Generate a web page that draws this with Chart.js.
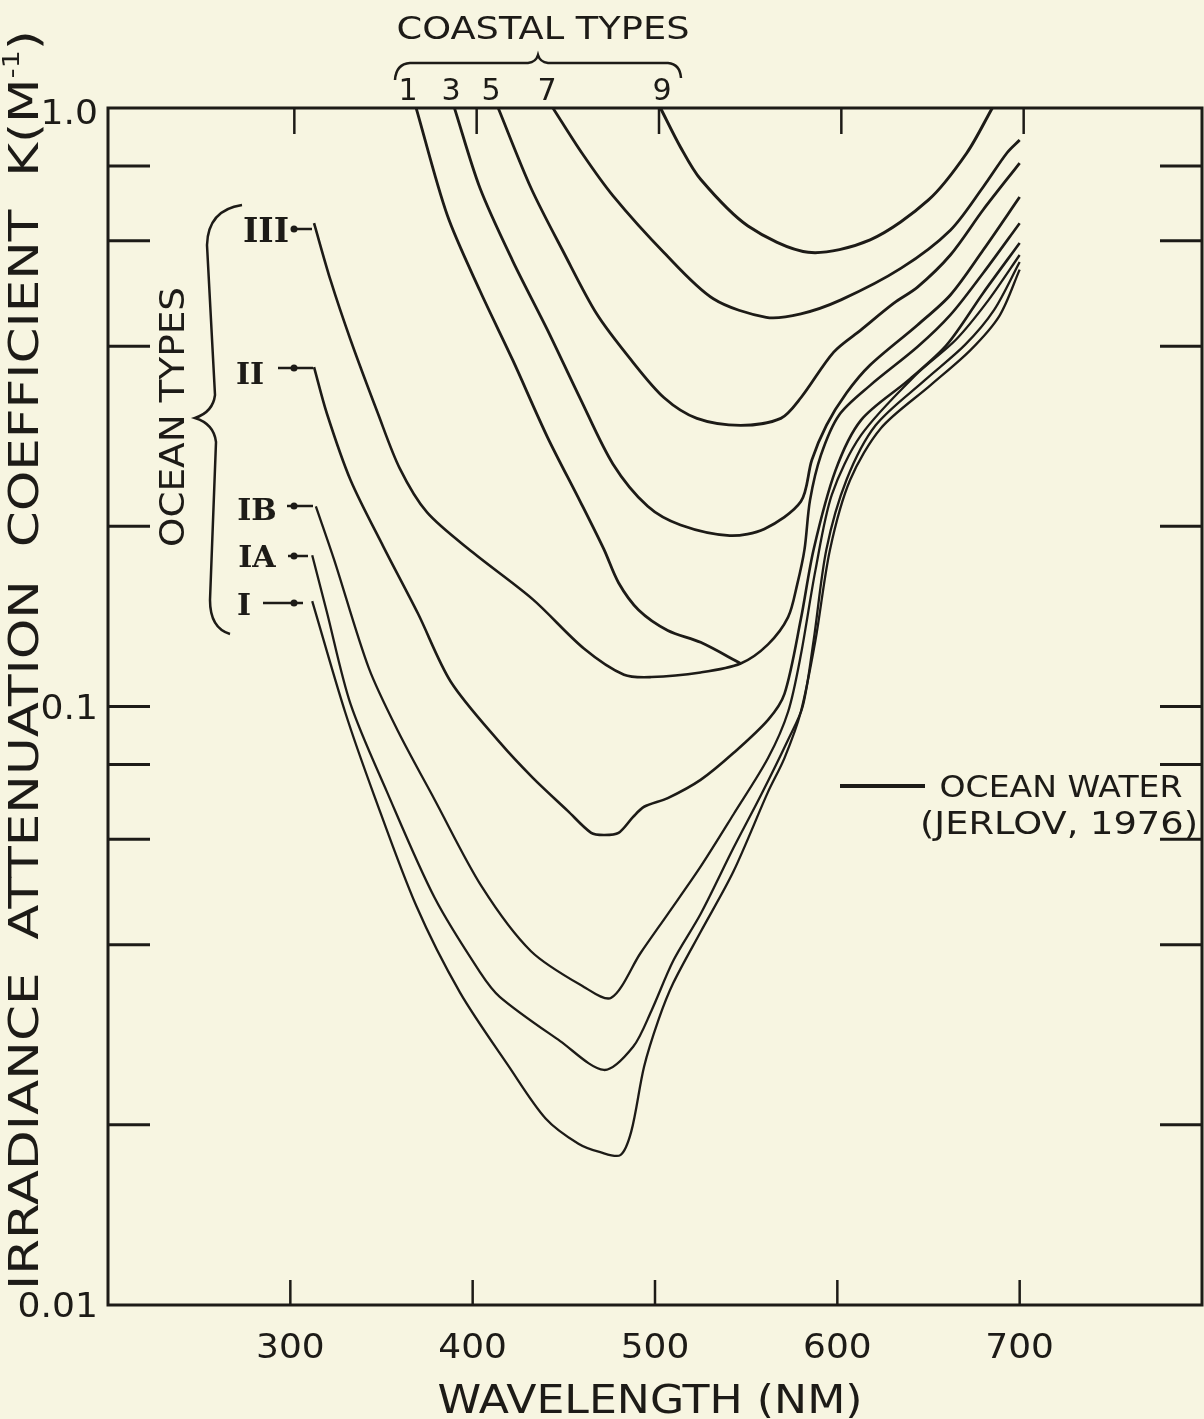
<!DOCTYPE html>
<html>
<head>
<meta charset="utf-8">
<script src="https://cdn.jsdelivr.net/npm/chart.js@4.4.1/dist/chart.umd.min.js"></script>
<style>
  html, body { margin: 0; padding: 0; background: #f7f5e1; }
  canvas { display: block; }
</style>
</head>
<body>
<canvas id="chart" width="1204" height="1419"></canvas>
<script>
// wavelength (nm), K (1/m)
const coastal1 = [[369,1.0],[386,0.663],[404,0.495],[422,0.379],[441,0.282],[459,0.220],[472,0.183],[480,0.161],[491,0.145],[507,0.134],[525,0.128],[547,0.118]];
const coastal3 = [[390,1.0],[404,0.735],[422,0.555],[441,0.426],[459,0.327],[477,0.254],[496,0.216],[514,0.201],[541,0.193],[560,0.198],[580,0.220],[586,0.258],[594,0.295],[605,0.334],[618,0.372],[644,0.434],[662,0.487],[680,0.579],[700,0.710]];
const coastal5 = [[414,1.0],[432,0.735],[450,0.573],[468,0.453],[487,0.379],[505,0.328],[523,0.303],[547,0.295],[569,0.303],[580,0.328],[598,0.391],[613,0.426],[631,0.472],[644,0.502],[662,0.568],[680,0.676],[700,0.809]];
const coastal7 = [[444,1.0],[460,0.84],[477,0.713],[505,0.573],[532,0.480],[561,0.447],[580,0.453],[602,0.478],[635,0.540],[662,0.625],[680,0.738],[693,0.841],[700,0.884]];
const coastal9 = [[503,1.0],[514,0.860],[525,0.760],[551,0.635],[584,0.574],[618,0.602],[650,0.702],[671,0.841],[685,1.0]];

const oceanIII = [[313,0.642],[322,0.516],[333,0.410],[348,0.309],[360,0.250],[375,0.211],[400,0.181],[433,0.151],[461,0.125],[483,0.113],[498,0.112],[525,0.114],[547,0.118],[562,0.127],[573,0.141],[578,0.160],[582,0.183],[585,0.221],[591,0.263],[601,0.307],[618,0.344],[644,0.399],[662,0.451],[680,0.530],[700,0.642]];
const oceanII = [[313,0.369],[320,0.309],[333,0.239],[351,0.185],[370,0.143],[388,0.110],[415,0.087],[433,0.076],[452,0.067],[465,0.0615],[472,0.061],[480,0.0615],[488,0.0654],[494,0.068],[507,0.0703],[525,0.0754],[543,0.0836],[562,0.095],[571,0.105],[580,0.140],[587,0.183],[599,0.248],[613,0.301],[639,0.351],[660,0.402],[680,0.491],[700,0.595]];
const oceanIB = [[314,0.216],[324,0.176],[343,0.116],[359,0.091],[379,0.070],[405,0.050],[432,0.039],[461,0.034],[476,0.0326],[492,0.0387],[507,0.045],[525,0.054],[543,0.066],[562,0.082],[573,0.098],[580,0.122],[588,0.169],[597,0.226],[613,0.284],[643,0.358],[665,0.410],[683,0.478],[700,0.568]];
const oceanIA = [[312,0.179],[320,0.144],[333,0.101],[353,0.072],[379,0.048],[404,0.036],[415,0.0327],[448,0.0276],[472,0.0247],[488,0.027],[498,0.031],[510,0.0376],[525,0.045],[543,0.058],[558,0.071],[573,0.088],[581,0.100],[587,0.129],[594,0.183],[605,0.239],[621,0.295],[648,0.351],[670,0.402],[686,0.460],[700,0.553]];
const oceanI = [[312,0.150],[330,0.098],[346,0.071],[369,0.0465],[393,0.0333],[420,0.0250],[440,0.0205],[458,0.0186],[470,0.0180],[481,0.0178],[487,0.0195],[494,0.025],[502,0.030],[510,0.0345],[525,0.042],[543,0.053],[562,0.072],[571,0.082],[580,0.098],[588,0.129],[596,0.183],[607,0.239],[624,0.292],[651,0.344],[673,0.394],[689,0.450],[700,0.537]];

const xTicks = [300, 400, 500, 600, 700];
const yTicks = [0.01, 0.02, 0.04, 0.06, 0.08, 0.1, 0.2, 0.4, 0.6, 0.8, 1.0];
const yLabels = { 0.01: '0.01', 0.1: '0.1', 1: '1.0' };

const ink = '#1d1b17';
const paper = '#f7f5e1';
const FONT = '"DejaVu Sans", "Liberation Sans", sans-serif';
const SERIF = '"DejaVu Serif", "Liberation Serif", serif';

function pts(arr) { return arr.map(p => ({ x: p[0], y: p[1] })); }

function line(name, arr, width) {
  return {
    label: name, data: pts(arr), showLine: true,
    borderColor: ink, borderWidth: width, pointRadius: 0,
    tension: 0.3, fill: false
  };
}

// text with a given cap height, optionally stretched to a width
function txt(ctx, s, cx, cy, h, o = {}) {
  const size = h / 0.73;
  ctx.save();
  ctx.font = `${o.weight || 'normal'} ${size}px ${o.family || FONT}`;
  const m = ctx.measureText(s).width;
  const sx = o.w ? o.w / m : (o.sx || 1);
  ctx.translate(cx, cy);
  if (o.rot) ctx.rotate(o.rot);
  ctx.scale(sx, 1);
  ctx.textAlign = o.align || 'center';
  ctx.textBaseline = 'alphabetic';
  ctx.fillStyle = ink;
  ctx.fillText(s, 0, h / 2);
  ctx.restore();
}

function seg(ctx, x1, y1, x2, y2, w) {
  ctx.lineWidth = w;
  ctx.beginPath(); ctx.moveTo(x1, y1); ctx.lineTo(x2, y2); ctx.stroke();
}

const paperPlugin = {
  id: 'paper',
  beforeDraw(chart) {
    const ctx = chart.ctx;
    ctx.save();
    ctx.fillStyle = paper;
    ctx.fillRect(0, 0, chart.width, chart.height);
    ctx.restore();
  }
};

const framePlugin = {
  id: 'frame',
  afterDraw(chart) {
    const ctx = chart.ctx;
    const a = chart.chartArea;
    const xs = chart.scales.x, ys = chart.scales.y;
    ctx.save();
    ctx.strokeStyle = ink;
    ctx.fillStyle = ink;
    ctx.lineCap = 'butt';

    // frame
    ctx.lineWidth = 3;
    ctx.strokeRect(a.left, a.top, a.right - a.left, a.bottom - a.top);

    // inward ticks
    ys.ticks.forEach(t => {
      if (t.value <= 0.01 || t.value >= 1) return;
      const y = ys.getPixelForValue(t.value);
      seg(ctx, a.left, y, a.left + 42, y, 3);
      seg(ctx, a.right - 42, y, a.right, y, 3);
    });
    xs.ticks.forEach(t => {
      const x = xs.getPixelForValue(t.value);
      seg(ctx, x, a.bottom, x, a.bottom - 25, 2.5);
      seg(ctx, x + 4, a.top, x + 4, a.top + 26, 2.5);
    });

    // tick labels
    xs.ticks.forEach(t => {
      txt(ctx, String(t.value), xs.getPixelForValue(t.value), 1345, 25, { sx: 1.05 });
    });
    ys.ticks.forEach(t => {
      const s = yLabels[t.value];
      if (!s) return;
      txt(ctx, s, 98, ys.getPixelForValue(t.value) + (t.value === 1 ? 4 : 0), 24, { sx: 1.1, align: 'right' });
    });

    // axis titles
    txt(ctx, 'WAVELENGTH (NM)', 650, 1399, 28, { w: 425 });

    // y title with superscript, rotated
    ctx.save();
    ctx.translate(23, 660);
    ctx.rotate(-Math.PI / 2);
    const h = 30, size = h / 0.73;
    const main = 'IRRADIANCE  ATTENUATION  COEFFICIENT  K(M';
    ctx.font = `${size}px ${FONT}`;
    const m1 = ctx.measureText(main).width;
    const m3 = ctx.measureText(')').width;
    ctx.font = `${size * 0.55}px ${FONT}`;
    const m2 = ctx.measureText('-1').width;
    const total = m1 + m2 + m3;
    ctx.scale(1260 / total, 1);
    ctx.fillStyle = ink;
    ctx.textAlign = 'left';
    ctx.textBaseline = 'alphabetic';
    ctx.font = `${size}px ${FONT}`;
    ctx.fillText(main, -total / 2, h / 2);
    ctx.fillText(')', -total / 2 + m1 + m2, h / 2);
    ctx.font = `${size * 0.55}px ${FONT}`;
    ctx.fillText('-1', -total / 2 + m1, h / 2 - h * 0.62);
    ctx.restore();

    // coastal types header and brace
    txt(ctx, 'COASTAL TYPES', 543, 27, 23, { w: 293 });
    [['1', 408], ['3', 451], ['5', 491], ['7', 547], ['9', 662]].forEach(n => txt(ctx, n[0], n[1], 89, 22));
    ctx.lineWidth = 2.5;
    ctx.beginPath();
    ctx.moveTo(395, 80);
    ctx.quadraticCurveTo(396, 64, 410, 63);
    ctx.lineTo(528, 63);
    ctx.quadraticCurveTo(536, 62, 538, 55);
    ctx.quadraticCurveTo(540, 62, 548, 63);
    ctx.lineTo(668, 63);
    ctx.quadraticCurveTo(680, 64, 681, 78);
    ctx.stroke();

    // ocean types header and brace
    txt(ctx, 'OCEAN TYPES', 171, 417, 25, { w: 260, rot: -Math.PI / 2 });
    ctx.lineWidth = 2.5;
    ctx.beginPath();
    ctx.moveTo(242, 205);
    ctx.quadraticCurveTo(208, 210, 207, 245);
    ctx.lineTo(215, 395);
    ctx.quadraticCurveTo(213, 412, 195, 418);
    ctx.quadraticCurveTo(214, 424, 216, 442);
    ctx.lineTo(210, 600);
    ctx.quadraticCurveTo(210, 628, 230, 634);
    ctx.stroke();

    // ocean type labels with pointers
    const tags = [
      ['III', 266, 230, 24, 293, 312, 229],
      ['II', 250, 373, 22, 278, 313, 368],
      ['IB', 257, 509, 22, 287, 313, 506],
      ['IA', 257, 556, 22, 288, 308, 556],
      ['I', 244, 604, 22, 263, 303, 603]
    ];
    tags.forEach(t => {
      txt(ctx, t[0], t[1], t[2], t[3], { family: SERIF, weight: 'bold' });
      seg(ctx, t[4], t[6], t[5], t[6], 2.5);
      ctx.beginPath(); ctx.arc(294, t[6], 3.5, 0, Math.PI * 2); ctx.fill();
    });

    // legend
    seg(ctx, 840, 786, 925, 786, 4);
    txt(ctx, 'OCEAN WATER', 1061, 786, 22, { w: 243 });
    txt(ctx, '(JERLOV, 1976)', 1059, 822, 23, { w: 278 });

    ctx.restore();
  }
};

new Chart(document.getElementById('chart'), {
  type: 'scatter',
  data: {
    datasets: [
      line('Coastal 1', coastal1, 2.8),
      line('Coastal 3', coastal3, 2.8),
      line('Coastal 5', coastal5, 2.8),
      line('Coastal 7', coastal7, 2.8),
      line('Coastal 9', coastal9, 3),
      line('Ocean III', oceanIII, 2.6),
      line('Ocean II', oceanII, 2.6),
      line('Ocean IB', oceanIB, 2.3),
      line('Ocean IA', oceanIA, 2.3),
      line('Ocean I', oceanI, 2.3)
    ]
  },
  options: {
    responsive: false,
    animation: false,
    layout: { padding: { top: 108, right: 2, left: 0, bottom: 0 } },
    plugins: { legend: { display: false }, tooltip: { enabled: false } },
    scales: {
      x: {
        type: 'linear', min: 200, max: 800,
        afterBuildTicks: s => { s.ticks = xTicks.map(v => ({ value: v })); },
        afterFit: s => { s.height = 114; },
        grid: { display: false }, border: { display: false }, ticks: { display: false }
      },
      y: {
        type: 'logarithmic', min: 0.01, max: 1,
        afterBuildTicks: s => { s.ticks = yTicks.map(v => ({ value: v })); },
        afterFit: s => { s.width = 108; },
        grid: { display: false }, border: { display: false }, ticks: { display: false }
      }
    }
  },
  plugins: [paperPlugin, framePlugin]
});
</script>
</body>
</html>
